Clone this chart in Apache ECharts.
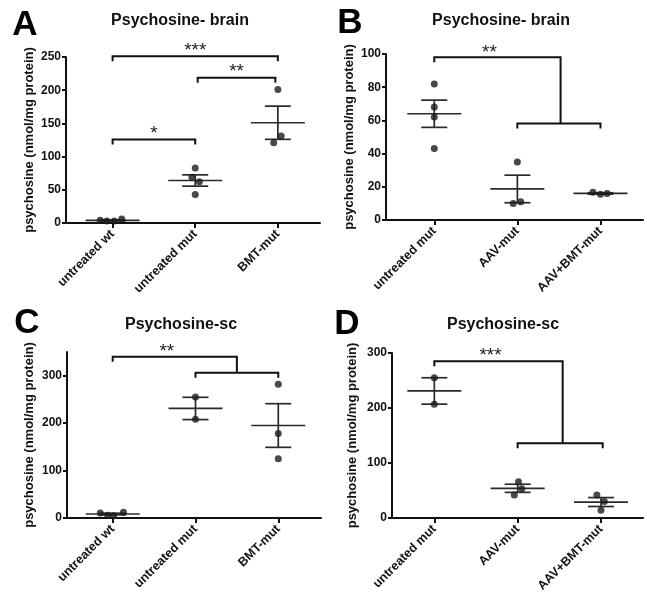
<!DOCTYPE html>
<html><head><meta charset="utf-8">
<script src="https://cdn.jsdelivr.net/npm/echarts@6/dist/echarts.min.js"></script>
<style>html,body{margin:0;padding:0;background:#fff}#c{width:647px;height:595px}</style>
</head><body><div id="c"></div>
<script>
// ---------- data ----------
const catsA = ['untreated wt', 'untreated mut', 'BMT-mut'];
const catsB = ['untreated mut', 'AAV-mut', 'AAV+BMT-mut'];
const catsC = ['untreated wt', 'untreated mut', 'BMT-mut'];
const catsD = ['untreated mut', 'AAV-mut', 'AAV+BMT-mut'];

const pointsA = [[4, 3, 3, 6], [83, 69, 62, 43], [201, 131, 121]];
const meanA = [4, 64, 151];
const semA = [0.7, 8.5, 25];

const pointsB = [[82, 68, 62, 43], [35, 10, 11], [16.7, 15.5, 16]];
const meanB = [64, 18.7, 16];
const semB = [8.2, 8.3, 0.4];

const pointsC = [[10.5, 6, 5, 12], [255, 208], [282, 178, 125]];
const meanC = [8.4, 231, 195];
const semC = [1.7, 23.5, 46];

const pointsD = [[255, 207], [66, 53, 42], [42, 30, 14]];
const meanD = [231, 54, 29];
const semD = [24, 7.4, 8.1];

const yTicksA = [0, 50, 100, 150, 200, 250];
const yTicksB = [0, 20, 40, 60, 80, 100];
const yTicksC = [0, 100, 200, 300];
const yTicksD = [0, 100, 200, 300];

const titles = ['Psychosine- brain', 'Psychosine- brain', 'Psychosine-sc', 'Psychosine-sc'];
const letters = ['A', 'B', 'C', 'D'];
const yName = 'psychosine (nmol/mg protein)';

// significance brackets (x in category index units, y in data units)
const bracketsA = [
  {x1: 0, x2: 2, y: 251, label: '***'},
  {x1: 1.03, x2: 1.97, y: 218.6, label: '**'},
  {x1: 0, x2: 1, y: 125.6, label: '*'}
];
const groupBracketB = {x1: 0, xm: 1.52, y: 98, x3: 1, x4: 2, y2: 58.2, label: '**'};
const groupBracketC = {x1: 0, xm: 1.5, y: 340, x3: 1, x4: 2, y2: 306, label: '**'};
const groupBracketD = {x1: 0, xm: 1.54, y: 285, x3: 1, x4: 2.02, y2: 135.8, label: '***'};

// ---------- layout (presentation only) ----------
const jitterA = [[-0.15, -0.07, 0.02, 0.11], [0, -0.04, 0.05, 0], [0, 0.04, -0.05]];
const jitterB = [[0, 0, 0, 0], [0, -0.05, 0.04], [-0.09, 0, 0.08]];
const jitterC = [[-0.15, -0.06, 0.01, 0.13], [0, 0], [0, 0, 0]];
const jitterD = [[0, 0], [0.01, 0.05, -0.04], [-0.05, 0.04, 0]];

const panels = [
  {cats: catsA, pts: pointsA, mean: meanA, sem: semA, jit: jitterA, ticks: yTicksA, ymax: 250,
   grid: {left: 66, top: 57, width: 254, height: 166}, xr: [-0.564, 2.51], nameGap: 30},
  {cats: catsB, pts: pointsB, mean: meanB, sem: semB, jit: jitterB, ticks: yTicksB, ymax: 100,
   grid: {left: 386, top: 54, width: 257, height: 166}, xr: [-0.581, 2.512], nameGap: 30},
  {cats: catsC, pts: pointsC, mean: meanC, sem: semC, jit: jitterC, ticks: yTicksC, ymax: 350,
   grid: {left: 67, top: 352, width: 254, height: 166}, xr: [-0.552, 2.516], nameGap: 31},
  {cats: catsD, pts: pointsD, mean: meanD, sem: semD, jit: jitterD, ticks: yTicksD, ymax: 300,
   grid: {left: 392, top: 353, width: 251, height: 165}, xr: [-0.508, 2.504], nameGap: 33}
];
const titlePos = [[180, 21], [501, 21], [181, 325], [503, 325]];
const letterPos = [[25, 25], [350, 23], [27, 323], [347, 324]];

const FONT = 'Liberation Sans, Arial, Helvetica, sans-serif';
const INK = '#111';

function errRender(params, api) {
  const x = api.value(0), m = api.value(1), s = api.value(2);
  const c = api.coord([x, m]);
  const top = api.coord([x, m + s]), bot = api.coord([x, m - s]);
  const st = {stroke: '#2a2a2a', lineWidth: 1.7};
  return {type: 'group', children: [
    {type: 'line', shape: {x1: c[0] - 27, y1: c[1], x2: c[0] + 27, y2: c[1]}, style: st},
    {type: 'line', shape: {x1: c[0], y1: top[1], x2: c[0], y2: bot[1]}, style: st},
    {type: 'line', shape: {x1: c[0] - 13, y1: top[1], x2: c[0] + 13, y2: top[1]}, style: st},
    {type: 'line', shape: {x1: c[0] - 13, y1: bot[1], x2: c[0] + 13, y2: bot[1]}, style: st}
  ]};
}

const DROP = 5;
const bStyle = {stroke: INK, lineWidth: 2, fill: null};
function starText(x, y, label) {
  return {type: 'text', style: {text: label, x: x, y: y, align: 'center', verticalAlign: 'middle',
    fontSize: 19, fontFamily: FONT, fill: '#222'}};
}
function simpleBracketRender(list) {
  return function (params, api) {
    const b = list[params.dataIndex];
    const p1 = api.coord([b.x1, b.y]), p2 = api.coord([b.x2, b.y]);
    return {type: 'group', children: [
      {type: 'polyline', shape: {points: [[p1[0], p1[1] + DROP], p1, p2, [p2[0], p2[1] + DROP]]}, style: bStyle},
      starText((p1[0] + p2[0]) / 2, p1[1] - 6, b.label)
    ]};
  };
}
function groupBracketRender(b) {
  return function (params, api) {
    const p1 = api.coord([b.x1, b.y]), pm = api.coord([b.xm, b.y]);
    const pm2 = api.coord([b.xm, b.y2]);
    const p3 = api.coord([b.x3, b.y2]), p4 = api.coord([b.x4, b.y2]);
    return {type: 'group', children: [
      {type: 'polyline', shape: {points: [[p1[0], p1[1] + DROP], p1, pm, pm2]}, style: bStyle},
      {type: 'polyline', shape: {points: [[p3[0], p3[1] + DROP], p3, p4, [p4[0], p4[1] + DROP]]}, style: bStyle},
      starText((p1[0] + pm[0]) / 2 - 8, p1[1] - 5, b.label)
    ]};
  };
}

const grids = [], xAxes = [], yAxes = [], series = [], graphics = [];
panels.forEach((p, i) => {
  grids.push(Object.assign({containLabel: false}, p.grid));
  xAxes.push({
    type: 'value', gridIndex: i, min: p.xr[0], max: p.xr[1],
    splitLine: {show: false},
    axisLine: {show: true, onZero: false, lineStyle: {color: INK, width: 2}},
    axisTick: {show: true, length: 5, lineStyle: {color: INK, width: 2}, customValues: [0, 1, 2]},
    axisLabel: {customValues: [0, 1, 2], rotate: 45, margin: 9, color: INK, fontWeight: 'bold',
      fontSize: 12.5, fontFamily: FONT, formatter: v => p.cats[Math.round(v)]}
  });
  yAxes.push({
    type: 'value', gridIndex: i, min: 0, max: p.ymax,
    name: yName, nameLocation: 'middle', nameGap: p.nameGap,
    nameTextStyle: {color: INK, fontWeight: 'bold', fontSize: 13, fontFamily: FONT},
    splitLine: {show: false},
    axisLine: {show: true, onZero: false, lineStyle: {color: INK, width: 2}},
    axisTick: {show: true, length: 4, lineStyle: {color: INK, width: 2}, customValues: p.ticks},
    axisLabel: {customValues: p.ticks, margin: 5, color: INK, fontWeight: 'bold', fontSize: 12, fontFamily: FONT}
  });
  series.push({
    type: 'custom', xAxisIndex: i, yAxisIndex: i, renderItem: errRender, clip: false, z: 2,
    encode: {x: 0, y: 1},
    data: p.mean.map((m, k) => [k, m, p.sem[k]])
  });
  const sd = [];
  p.pts.forEach((arr, k) => arr.forEach((v, j) => sd.push([k + p.jit[k][j], v])));
  series.push({
    type: 'scatter', xAxisIndex: i, yAxisIndex: i, symbolSize: 7, z: 3,
    itemStyle: {color: '#1c1c1c'}, data: sd, clip: false
  });
  graphics.push({type: 'text', x: titlePos[i][0], y: titlePos[i][1],
    style: {text: titles[i], align: 'center', verticalAlign: 'middle', fontSize: 16, fontWeight: 'bold', fontFamily: FONT, fill: INK}});
  graphics.push({type: 'text', x: letterPos[i][0], y: letterPos[i][1],
    style: {text: letters[i], align: 'center', verticalAlign: 'middle', fontSize: 35, fontWeight: 'bold', fontFamily: FONT, fill: '#000'}});
});

series.push({type: 'custom', xAxisIndex: 0, yAxisIndex: 0, clip: false, z: 4,
  encode: {x: 0, y: 1}, data: bracketsA.map(b => [b.x1, b.y]), renderItem: simpleBracketRender(bracketsA)});
[[1, groupBracketB], [2, groupBracketC], [3, groupBracketD]].forEach(([i, b]) => {
  series.push({type: 'custom', xAxisIndex: i, yAxisIndex: i, clip: false, z: 4,
    encode: {x: 0, y: 1}, data: [[b.x1, b.y]], renderItem: groupBracketRender(b)});
});

const chart = echarts.init(document.getElementById('c'));
chart.setOption({
  animation: false, backgroundColor: '#fff',
  grid: grids, xAxis: xAxes, yAxis: yAxes, series: series, graphic: graphics
});
</script></body></html>
